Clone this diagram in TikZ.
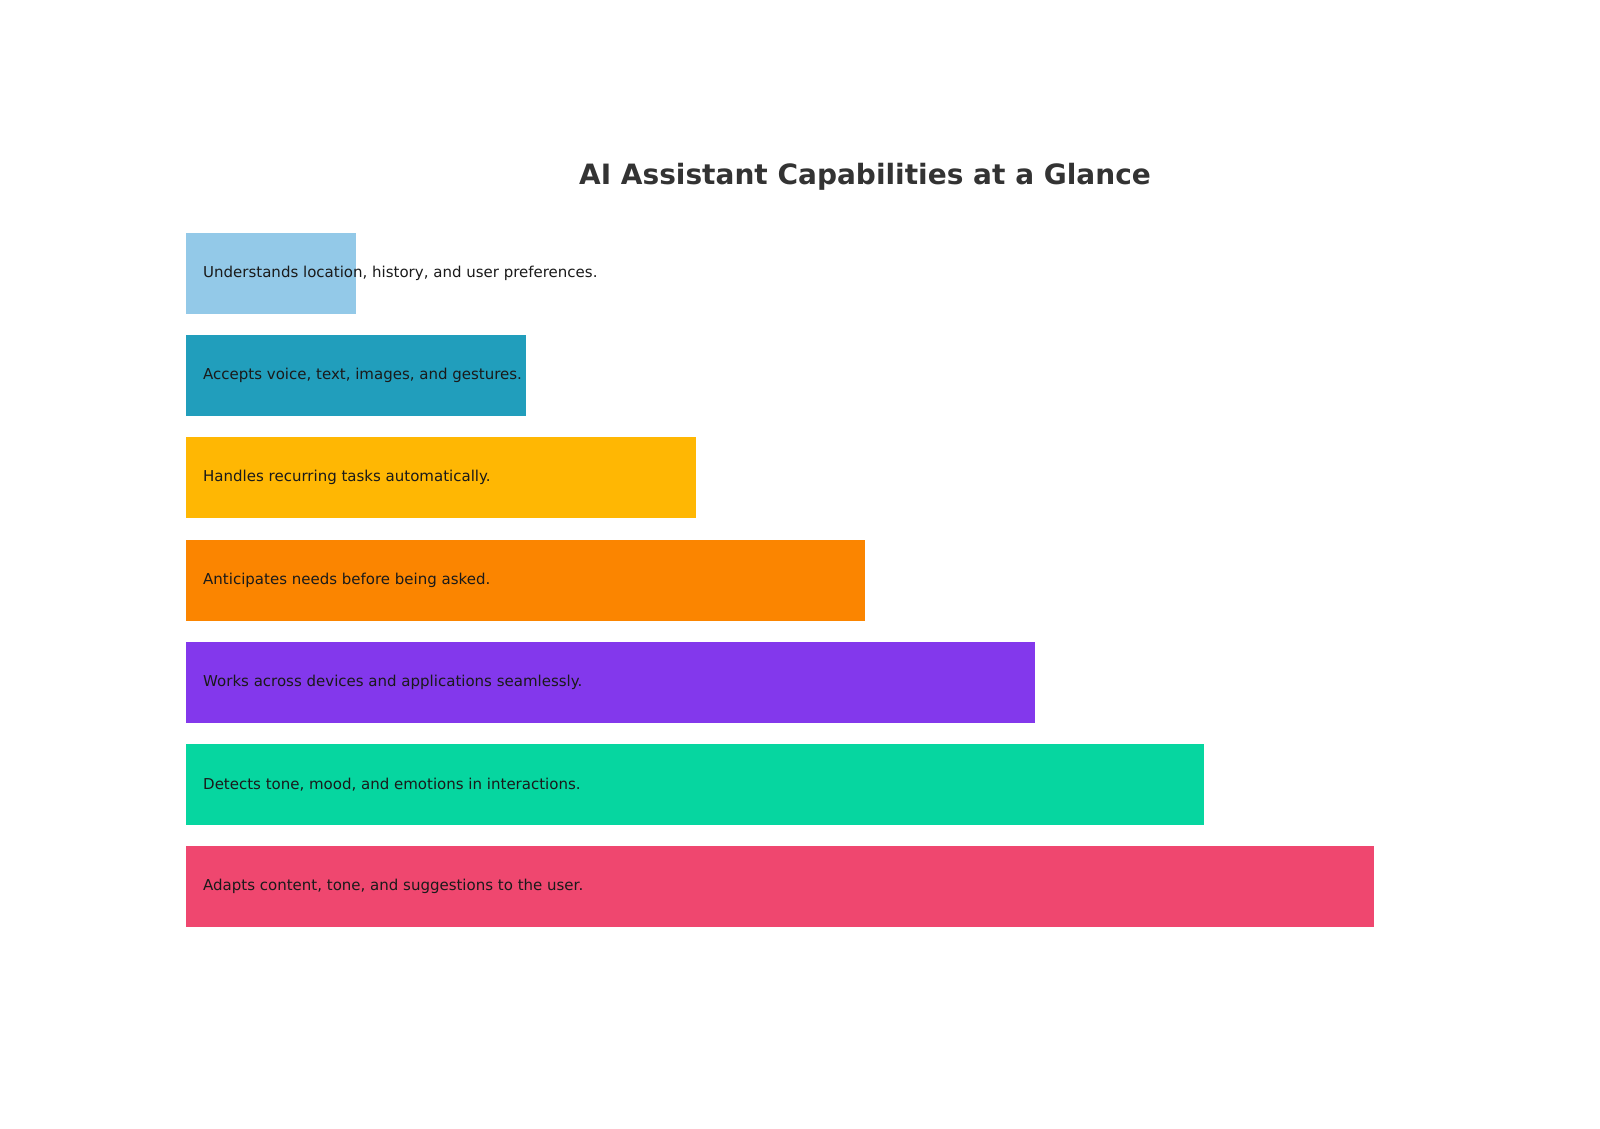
\documentclass[tikz,border=0pt]{standalone}
\usepackage{fontspec}
\setmainfont{DejaVu Sans}
\usepackage{xcolor}
\usetikzlibrary{positioning}
\definecolor{titletext}{HTML}{333333}
\definecolor{bartext}{HTML}{1A1A1A}
\definecolor{sky}{HTML}{93C9E8}
\definecolor{teal}{HTML}{219EBC}
\definecolor{amber}{HTML}{FFB703}
\definecolor{tangerine}{HTML}{FB8500}
\definecolor{violet}{HTML}{8338EC}
\definecolor{mint}{HTML}{06D6A0}
\definecolor{rose}{HTML}{EF476F}
\tikzset{
  bar/.style={draw=none, inner sep=0pt, anchor=north west, minimum height=81pt},
  lab/.style={text=bartext, font=\fontsize{15}{18}\selectfont, anchor=west, inner sep=0pt},
  ttl/.style={text=titletext, font=\fontsize{28}{32}\selectfont\bfseries}
}
\begin{document}
\begin{tikzpicture}[x=1pt,y=-1pt]
  \useasboundingbox (0,0) rectangle (1600,1128);

  \node[ttl] (title) at (865,177) {AI Assistant Capabilities at a Glance};

  % bars, shortest on top
  \node[bar, fill=sky, minimum width=170pt] (b1) at (186,233) {};
  \node[bar, fill=teal, minimum width=340pt] (b2) at (186,335) {};
  \node[bar, fill=amber, minimum width=510pt] (b3) at (186,437) {};
  \node[bar, fill=tangerine, minimum width=679pt] (b4) at (186,540) {};
  \node[bar, fill=violet, minimum width=849pt] (b5) at (186,642) {};
  \node[bar, fill=mint, minimum width=1018pt] (b6) at (186,744) {};
  \node[bar, fill=rose, minimum width=1188pt] (b7) at (186,846) {};

  \node[lab, right=17pt of b1.west] (t1) {Understands location, history, and user preferences.};
  \node[lab, right=17pt of b2.west] (t2) {Accepts voice, text, images, and gestures.};
  \node[lab, right=17pt of b3.west] (t3) {Handles recurring tasks automatically.};
  \node[lab, right=17pt of b4.west] (t4) {Anticipates needs before being asked.};
  \node[lab, right=17pt of b5.west] (t5) {Works across devices and applications seamlessly.};
  \node[lab, right=17pt of b6.west] (t6) {Detects tone, mood, and emotions in interactions.};
  \node[lab, right=17pt of b7.west] (t7) {Adapts content, tone, and suggestions to the user.};
\end{tikzpicture}
\end{document}
